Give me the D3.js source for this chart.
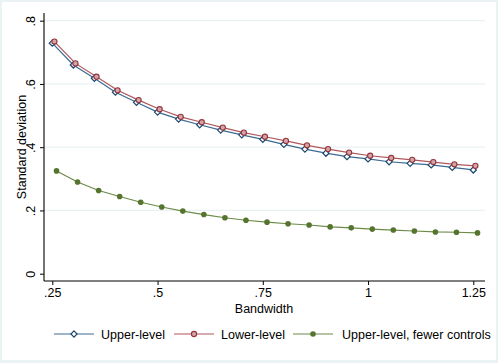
<!DOCTYPE html>
<html>
<head>
<meta charset="utf-8">
<script src="https://cdn.jsdelivr.net/npm/d3@7"></script>
<style>
  body { margin: 0; background: #fff; }
  svg text { font-family: "Liberation Sans", Arial, Helvetica, sans-serif; fill: #000; }
</style>
</head>
<body>
<div id="chart"></div>
<script>
const bandwidth = [0.25, 0.30, 0.35, 0.40, 0.45, 0.50, 0.55, 0.60, 0.65, 0.70, 0.75,
                   0.80, 0.85, 0.90, 0.95, 1.00, 1.05, 1.10, 1.15, 1.20, 1.25];

const upperLevel = [0.729, 0.660, 0.618, 0.574, 0.542, 0.511, 0.489, 0.471, 0.454, 0.439, 0.425,
                    0.409, 0.394, 0.381, 0.370, 0.363, 0.354, 0.349, 0.344, 0.336, 0.328];
const lowerLevel = [0.734, 0.665, 0.623, 0.580, 0.549, 0.520, 0.496, 0.479, 0.462, 0.446, 0.433,
                    0.420, 0.406, 0.394, 0.383, 0.373, 0.366, 0.360, 0.353, 0.346, 0.341];
const fewerControls = [0.325, 0.290, 0.263, 0.244, 0.226, 0.211, 0.198, 0.187, 0.177, 0.169, 0.163,
                       0.158, 0.154, 0.148, 0.145, 0.141, 0.138, 0.135, 0.132, 0.131, 0.129];

const xTicks = [0.25, 0.5, 0.75, 1, 1.25];
const xTickLabels = [".25", ".5", ".75", "1", "1.25"];
const yTicks = [0, 0.2, 0.4, 0.6, 0.8];
const yTickLabels = ["0", ".2", ".4", ".6", ".8"];

// stata draws the series slightly offset in x
const series = [
  { name: "Upper-level", values: upperLevel, shift: 0, color: "#1a476f", line: "#3d6a93", marker: "diamond" },
  { name: "Lower-level", values: lowerLevel, shift: 0.005, color: "#90353b", line: "#b0575d", marker: "circleHollow" },
  { name: "Upper-level, fewer controls", values: fewerControls, shift: 0.01, color: "#55752f", line: "#6c8a48", marker: "dot" }
];

const width = 498;
const height = 363;

const svg = d3.select("#chart").append("svg")
  .attr("width", width)
  .attr("height", height);

// outer frame
svg.append("rect").attr("width", width).attr("height", height).attr("fill", "#eaf2f3");
svg.append("rect").attr("x", 2).attr("y", 2).attr("width", width - 4).attr("height", height - 5).attr("fill", "#fff");

const x = d3.scaleLinear().domain([0.25, 1.25]).range([52.3, 473.3]);
const y = d3.scaleLinear().domain([0, 0.8]).range([273.7, 20.7]);

const axisLeft = 44;
const axisRight = 485;
const axisBottom = 281;
const axisTop = 13;

// grid
svg.selectAll(".grid")
  .data(yTicks.filter(d => d > 0))
  .join("line")
  .attr("class", "grid")
  .attr("x1", axisLeft).attr("x2", axisRight)
  .attr("y1", d => y(d)).attr("y2", d => y(d))
  .attr("stroke", "#eaf2f3")
  .attr("stroke-width", 1.2);

// y axis
const yAxis = svg.append("g")
  .attr("transform", `translate(${axisLeft},0)`)
  .call(d3.axisLeft(y).tickValues(yTicks).tickFormat((d, i) => yTickLabels[i]).tickSize(4).tickPadding(3));
yAxis.select(".domain").attr("d", `M0,${axisTop}V${axisBottom}`).attr("stroke", "#000").attr("stroke-width", 1.1);
yAxis.selectAll(".tick line").attr("stroke", "#000");
yAxis.selectAll(".tick text")
  .style("font-size", "12.5px")
  .attr("text-anchor", "middle")
  .attr("x", null).attr("y", null)
  .attr("dy", "0")
  .attr("transform", "translate(-9,0) rotate(-90)");

// x axis
const xAxis = svg.append("g")
  .attr("transform", `translate(0,${axisBottom})`)
  .call(d3.axisBottom(x).tickValues(xTicks).tickFormat((d, i) => xTickLabels[i]).tickSize(4).tickPadding(3));
xAxis.select(".domain").attr("d", `M${axisLeft},0H${axisRight}`).attr("stroke", "#000").attr("stroke-width", 1.1);
xAxis.selectAll(".tick line").attr("stroke", "#000");
xAxis.selectAll(".tick text").style("font-size", "12.5px");

// axis titles
svg.append("text")
  .attr("x", 264).attr("y", 313)
  .attr("text-anchor", "middle")
  .style("font-size", "12.5px")
  .text("Bandwidth");

svg.append("text")
  .attr("transform", "translate(26,147) rotate(-90)")
  .attr("text-anchor", "middle")
  .style("font-size", "12.5px")
  .text("Standard deviation");

const line = d3.line().x(d => x(d[0])).y(d => y(d[1]));

const diamond = d3.symbol().type(d3.symbolDiamond2).size(24);

function drawMarker(g, s) {
  if (s.marker === "diamond") {
    g.append("path").attr("d", diamond()).attr("fill", "#fff").attr("stroke", s.color).attr("stroke-width", 1.2);
  } else if (s.marker === "circleHollow") {
    g.append("circle").attr("r", 2.6).attr("fill", "#d6a4a8").attr("stroke", s.color).attr("stroke-width", 1.1);
  } else {
    g.append("circle").attr("r", 2.8).attr("fill", s.color);
  }
}

series.forEach(s => {
  const pts = bandwidth.map((b, i) => [b + s.shift, s.values[i]]);
  svg.append("path")
    .datum(pts)
    .attr("d", line)
    .attr("fill", "none")
    .attr("stroke", s.line)
    .attr("stroke-width", 1.2);

  svg.append("g").selectAll("g")
    .data(pts)
    .join("g")
    .attr("transform", d => `translate(${x(d[0])},${y(d[1])})`)
    .each(function () { drawMarker(d3.select(this), s); });
});

// legend
const legendItems = [
  { s: series[0], x0: 54, tx: 101 },
  { s: series[1], x0: 174, tx: 221 },
  { s: series[2], x0: 293, tx: 342 }
];
const legendY = 334;

const legend = svg.append("g").attr("class", "legend");
legendItems.forEach(it => {
  legend.append("line")
    .attr("x1", it.x0).attr("x2", it.x0 + 40)
    .attr("y1", legendY).attr("y2", legendY)
    .attr("stroke", it.s.line).attr("stroke-width", 1.2);
  const m = legend.append("g").attr("transform", `translate(${it.x0 + 20},${legendY})`);
  drawMarker(m, it.s);
  legend.append("text")
    .attr("x", it.tx).attr("y", legendY + 4.5)
    .style("font-size", "12.5px")
    .text(it.s.name);
});
</script>
</body>
</html>
